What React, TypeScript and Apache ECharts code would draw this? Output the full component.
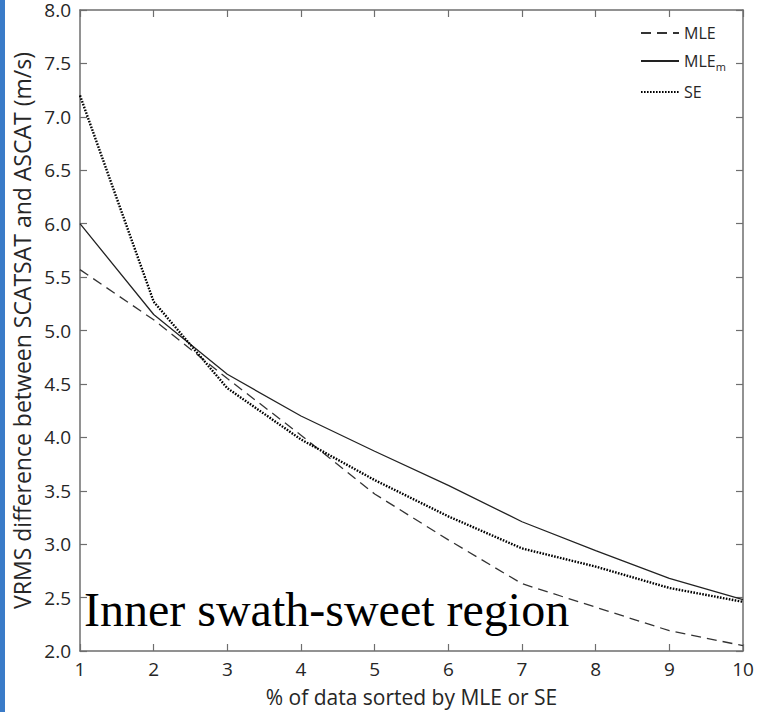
import React, { useEffect, useRef } from "react";
import * as echarts from "echarts";

const percentCategories = [1, 2, 3, 4, 5, 6, 7, 8, 9, 10];
const mleValues = [5.57, 5.1, 4.55, 4.02, 3.47, 3.04, 2.63, 2.41, 2.19, 2.05];
const mleMValues = [6.0, 5.15, 4.59, 4.2, 3.87, 3.55, 3.21, 2.94, 2.68, 2.48];
const seValues = [7.2, 5.27, 4.46, 3.98, 3.6, 3.26, 2.96, 2.79, 2.59, 2.46];
const seriesNames = ["MLE", "MLEm", "SE"];
const xAxisTitle = "% of data sorted by MLE or SE";
const yAxisTitle = "VRMS difference between SCATSAT and ASCAT (m/s)";
const annotation = "Inner swath-sweet region";

const pairs = (vals: number[]) => percentCategories.map((x, i) => [x, vals[i]]);

export default function App() {
  const ref = useRef<HTMLDivElement>(null);
  useEffect(() => {
    if (!ref.current) return;
    const chart = echarts.init(ref.current, undefined, { renderer: "svg" });
    const axisColor = "#6e6e6e";
    const labelColor = "#262626";
    const font = "Open Sans";
    chart.setOption({
      animation: false,
      backgroundColor: "#ffffff",
      grid: { left: 80, right: 15, top: 10, bottom: 59, containLabel: false },
      legend: {
        orient: "vertical",
        left: 640,
        top: 25,
        padding: 0,
        itemWidth: 38,
        itemHeight: 14,
        itemGap: 12,
        itemStyle: { opacity: 0 },
        data: seriesNames,
        formatter: (name: string) => (name === "MLEm" ? "{n|MLE}{s|m}" : "{n|" + name + "}"),
        textStyle: {
          fontFamily: font,
          color: labelColor,
          rich: {
            n: { fontFamily: font, fontSize: 16, lineHeight: 22, color: labelColor },
            s: { fontFamily: font, fontSize: 11, lineHeight: 11, verticalAlign: "bottom", color: labelColor },
          },
        },
      },
      xAxis: [
        {
          type: "value",
          min: 1,
          max: 10,
          interval: 1,
          name: xAxisTitle,
          nameLocation: "middle",
          nameGap: 35,
          nameTextStyle: { fontFamily: font, fontSize: 21, color: labelColor },
          axisLine: { show: true, lineStyle: { color: axisColor, width: 1.5 } },
          axisTick: { show: true, inside: true, length: 7, lineStyle: { color: axisColor, width: 1.2 } },
          axisLabel: { fontFamily: font, fontSize: 19, color: labelColor, margin: 8 },
          splitLine: { show: false },
        },
        {
          type: "value",
          position: "top",
          min: 1,
          max: 10,
          interval: 1,
          axisLine: { show: true, lineStyle: { color: axisColor, width: 1.5 } },
          axisTick: { show: true, inside: true, length: 7, lineStyle: { color: axisColor, width: 1.2 } },
          axisLabel: { show: false },
          splitLine: { show: false },
        },
      ],
      yAxis: [
        {
          type: "value",
          min: 2,
          max: 8,
          interval: 0.5,
          name: yAxisTitle,
          nameLocation: "middle",
          nameGap: 47,
          nameTextStyle: { fontFamily: font, fontSize: 23, color: labelColor },
          axisLine: { show: true, lineStyle: { color: axisColor, width: 1.5 } },
          axisTick: { show: true, inside: true, length: 7, lineStyle: { color: axisColor, width: 1.2 } },
          axisLabel: {
            fontFamily: font,
            fontSize: 19,
            color: labelColor,
            margin: 9,
            formatter: (v: number) => v.toFixed(1),
          },
          splitLine: { show: false },
        },
        {
          type: "value",
          position: "right",
          min: 2,
          max: 8,
          interval: 0.5,
          axisLine: { show: true, lineStyle: { color: axisColor, width: 1.5 } },
          axisTick: { show: true, inside: true, length: 7, lineStyle: { color: axisColor, width: 1.2 } },
          axisLabel: { show: false },
          splitLine: { show: false },
        },
      ],
      series: [
        {
          name: seriesNames[0],
          type: "line",
          data: pairs(mleValues),
          symbol: "none",
          lineStyle: { color: "#333333", width: 1.3, type: [10, 6] },
          itemStyle: { color: "#333333" },
        },
        {
          name: seriesNames[1],
          type: "line",
          data: pairs(mleMValues),
          symbol: "none",
          lineStyle: { color: "#222222", width: 1.3, type: "solid" },
          itemStyle: { color: "#222222" },
        },
        {
          name: seriesNames[2],
          type: "line",
          data: pairs(seValues),
          symbol: "none",
          lineStyle: { color: "#000000", width: 2.4, type: [1.6, 1.4] },
          itemStyle: { color: "#000000" },
        },
      ],
      graphic: [
        {
          type: "rect",
          left: 0,
          top: 0,
          shape: { x: 0, y: 0, width: 5, height: 712 },
          style: { fill: "#3a7bc8" },
          silent: true,
        },
        {
          type: "text",
          x: 84,
          y: 609,
          style: {
            text: annotation,
            fontFamily: "Liberation Serif",
            fontSize: 48,
            fill: "#000000",
            textVerticalAlign: "middle",
            verticalAlign: "middle",
          },
          silent: true,
        },
      ],
    });
    return () => chart.dispose();
  }, []);
  return (
    <div
      ref={ref}
      style={{ position: "fixed", left: 0, top: 0, width: 758, height: 712 }}
    />
  );
}
